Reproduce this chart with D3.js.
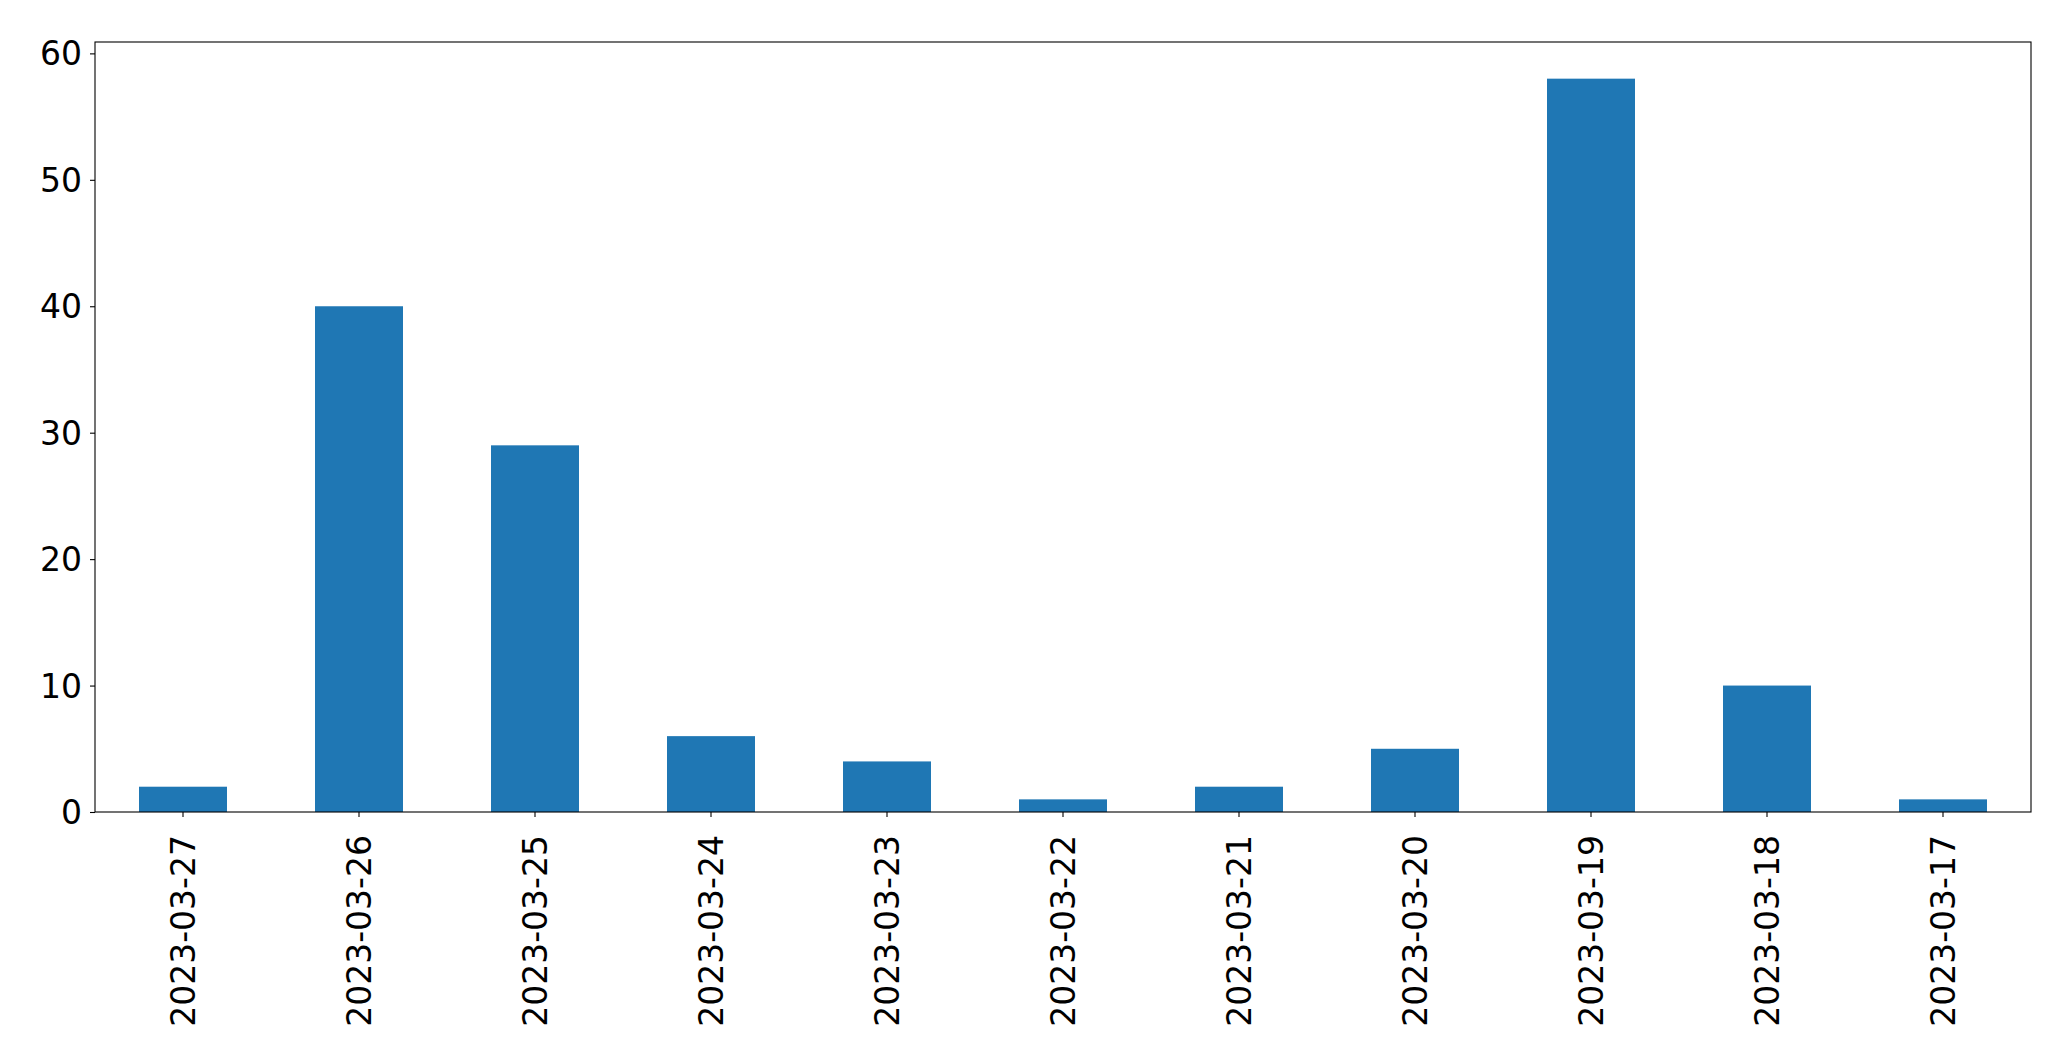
<!DOCTYPE html>
<html><head><meta charset="utf-8">
<script src="https://cdn.jsdelivr.net/npm/d3@7"></script>
<style>body{margin:0;background:#fff}svg{display:block}</style>
</head><body>
<script>
const categories = ["2023-03-27","2023-03-26","2023-03-25","2023-03-24","2023-03-23","2023-03-22","2023-03-21","2023-03-20","2023-03-19","2023-03-18","2023-03-17"];
const values = [2,40,29,6,4,1,2,5,58,10,1];
const yTicks = [0,10,20,30,40,50,60];

const W = 2071, H = 1064;
const m = {left:95, right:2031, top:42, bottom:812};
const svg = d3.select("body").append("svg").attr("width",W).attr("height",H);

const x = d3.scaleBand().domain(categories).range([m.left,m.right]).paddingInner(0.5).paddingOuter(0.25);
const y = d3.scaleLinear().domain([0, d3.max(values)*1.05]).range([m.bottom,m.top]);

svg.selectAll("rect.bar").data(values).join("rect").attr("class","bar")
  .attr("x",(d,i)=>x(categories[i])).attr("width",x.bandwidth())
  .attr("y",d=>y(d)).attr("height",d=>y(0)-y(d)).attr("fill","#1f77b4");

const font = "DejaVu Sans";
const yAxis = svg.append("g").attr("transform",`translate(${m.left},0)`)
  .call(d3.axisLeft(y).tickValues(yTicks).tickFormat(d3.format("d")).tickSize(5).tickPadding(8));
yAxis.select(".domain").remove();
yAxis.selectAll("text").attr("font-family",font).attr("font-size",33).attr("fill","#000").attr("dy","0.35em");
yAxis.selectAll("line").attr("stroke","#000").attr("stroke-width",1.1);

const xAxis = svg.append("g").attr("transform",`translate(0,${m.bottom})`)
  .call(d3.axisBottom(x).tickSize(5));
xAxis.select(".domain").remove();
xAxis.selectAll("line").attr("stroke","#000").attr("stroke-width",1.1);
xAxis.selectAll("text").attr("font-family",font).attr("font-size",33).attr("fill","#000")
  .attr("transform","rotate(-90)").attr("text-anchor","end").attr("x",-23).attr("y",0).attr("dy","0.35em");

svg.append("rect").attr("x",m.left).attr("y",m.top).attr("width",m.right-m.left).attr("height",m.bottom-m.top)
  .attr("fill","none").attr("stroke","#000").attr("stroke-width",1.1);
</script>
</body></html>
